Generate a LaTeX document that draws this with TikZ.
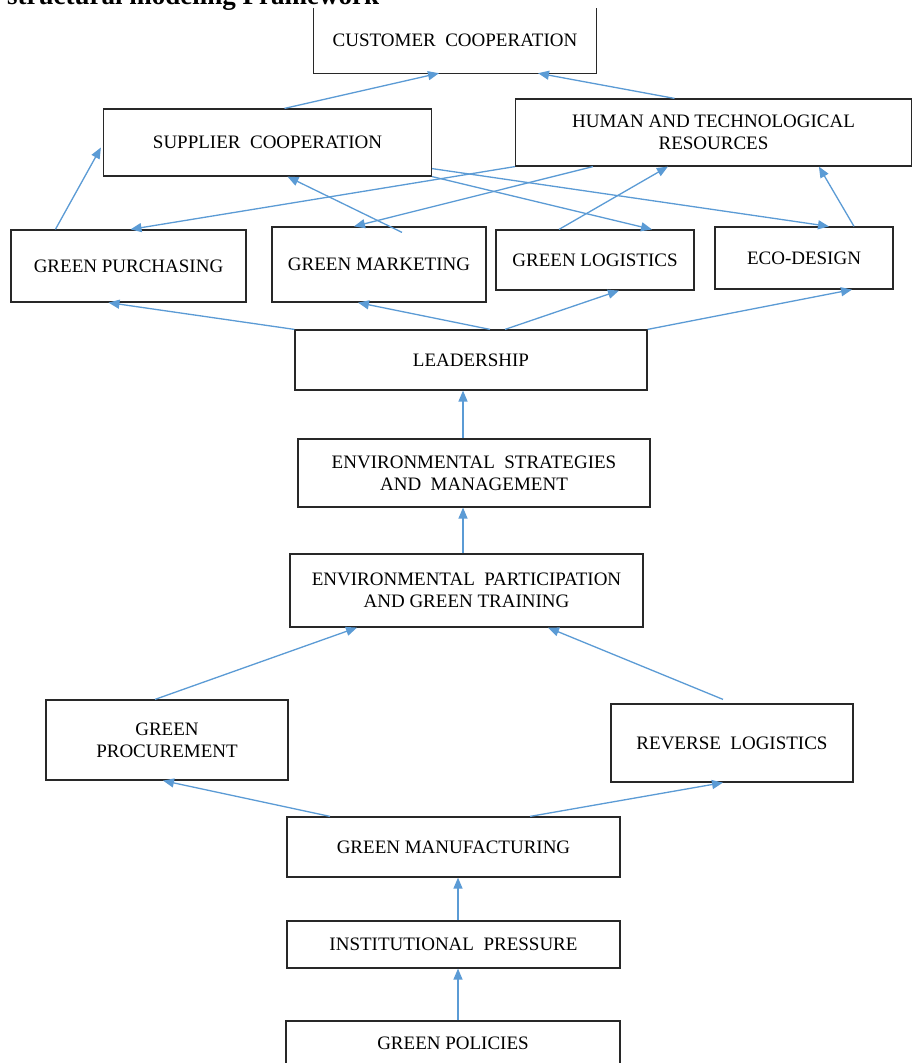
\documentclass[tikz,border=0pt]{standalone}
\usepackage{fontspec}
\setmainfont{Liberation Serif}
\usetikzlibrary{arrows.meta}
\definecolor{arrblue}{RGB}{91,155,213}
\definecolor{boxline}{RGB}{40,40,40}
\tikzset{
  box/.style={draw=boxline, line width=1.2pt, rectangle, inner sep=0pt, align=center,
    font=\fontsize{19}{22}\selectfont, text=black},
  openbox/.style={rectangle, inner sep=0pt, align=center,
    font=\fontsize{19}{22}\selectfont, text=black},
  arr/.style={draw=arrblue, line width=1.3pt, -{Triangle[length=11pt,width=9pt]}},
}
\begin{document}
\begin{tikzpicture}[x=1pt,y=-1pt]
\clip (0,0) rectangle (912,1063);
\fill[white] (0,0) rectangle (912,1063);

% title (cut at top, as in the reference)
\node[anchor=base west, inner sep=0pt, font=\bfseries\fontsize{27}{30}\selectfont] (title) at (7,4) {structural modeling Framework};

% nodes
\node[openbox, minimum width=282pt, minimum height=65pt] (cc) at (455,40.5) {CUSTOMER\ \ COOPERATION};
\draw[boxline, line width=1.2pt] (cc.north west) -- (cc.south west) -- (cc.south east) -- (cc.north east);

\node[box, minimum width=328pt, minimum height=67pt] (sc) at (267.5,142.5) {SUPPLIER\ \ COOPERATION};
\node[box, minimum width=396pt, minimum height=67pt] (htr) at (713.5,132.5) {HUMAN AND TECHNOLOGICAL\\RESOURCES};

\node[box, minimum width=235pt, minimum height=72pt] (gpu) at (128.5,266) {GREEN PURCHASING};
\node[box, minimum width=214pt, minimum height=75pt] (gma) at (379,264.5) {GREEN MARKETING};
\node[box, minimum width=198pt, minimum height=60pt] (glo) at (595,260) {GREEN LOGISTICS};
\node[box, minimum width=178pt, minimum height=62pt] (eco) at (804,258) {ECO-DESIGN};

\node[box, minimum width=352pt, minimum height=60pt] (lea) at (471,360) {LEADERSHIP};
\node[box, minimum width=352pt, minimum height=68pt] (ens) at (474,473) {ENVIRONMENTAL\ \ STRATEGIES\\AND\ \ MANAGEMENT};
\node[box, minimum width=353pt, minimum height=73pt] (enp) at (466.5,590.5) {ENVIRONMENTAL\ \ PARTICIPATION\\AND GREEN TRAINING};

\node[box, minimum width=242pt, minimum height=80pt] (gpr) at (167,740) {GREEN\\PROCUREMENT};
\node[box, minimum width=242pt, minimum height=78pt] (rlo) at (732,743) {REVERSE\ \ LOGISTICS};

\node[box, minimum width=333pt, minimum height=60pt] (gmf) at (453.5,847) {GREEN MANUFACTURING};
\node[box, minimum width=333pt, minimum height=47pt] (ipr) at (453.5,944.5) {INSTITUTIONAL\ \ PRESSURE};
\node[box, minimum width=334pt, minimum height=44pt] (gpo) at (453,1043) {GREEN POLICIES};

% connectors: top layer
\draw[arr] ([xshift=17pt]sc.north) -- ([xshift=-16pt]cc.south);
\draw[arr] ([xshift=-39pt]htr.north) -- ([xshift=83pt]cc.south);

\draw[arr] ([xshift=45pt]gpu.north west) -- ([xshift=-2pt,yshift=-5pt]sc.west);
\draw[arr] ([yshift=8pt]sc.south east) -- ([xshift=25pt]eco.north);
\draw[arr] (sc.south east) -- ([xshift=57pt]glo.north);
\draw[arr] (htr.south west) -- ([xshift=2pt]gpu.north);
\draw[arr] ([xshift=78pt]htr.south west) -- ([xshift=-25pt]gma.north);
\draw[arr] ([xshift=23pt,yshift=-6pt]gma.north) -- ([xshift=20pt]sc.south);
\draw[arr] ([xshift=-36pt]glo.north) -- ([xshift=153pt]htr.south west);
\draw[arr] ([xshift=50pt]eco.north) -- ([xshift=304pt]htr.south west);

% leadership fan-out
\draw[arr] (lea.north west) -- ([xshift=-20pt]gpu.south);
\draw[arr] ([xshift=19pt]lea.north) -- ([xshift=-21pt]gma.south);
\draw[arr] ([xshift=34pt]lea.north) -- ([xshift=24pt]glo.south);
\draw[arr] (lea.north east) -- ([xshift=48pt]eco.south);

% vertical chain
\draw[arr] ([xshift=-11pt]ens.north) -- ([xshift=-11pt]ens.north |- lea.south);
\draw[arr] ([xshift=-3.5pt]enp.north) -- ([xshift=-3.5pt]enp.north |- ens.south);

\draw[arr] ([xshift=-12pt]gpr.north) -- ([xshift=-109.5pt]enp.south);
\draw[arr] ([xshift=-9pt,yshift=4pt]rlo.north) -- ([xshift=81.5pt]enp.south);

\draw[arr] ([xshift=-123.5pt]gmf.north) -- ([xshift=-4pt]gpr.south);
\draw[arr] ([xshift=76.5pt]gmf.north) -- ([xshift=-9pt]rlo.south);

\draw[arr] ([xshift=4.5pt]ipr.north) -- ([xshift=4.5pt]ipr.north |- gmf.south);
\draw[arr] ([xshift=5pt]gpo.north) -- ([xshift=5pt]gpo.north |- ipr.south);
\end{tikzpicture}
\end{document}
